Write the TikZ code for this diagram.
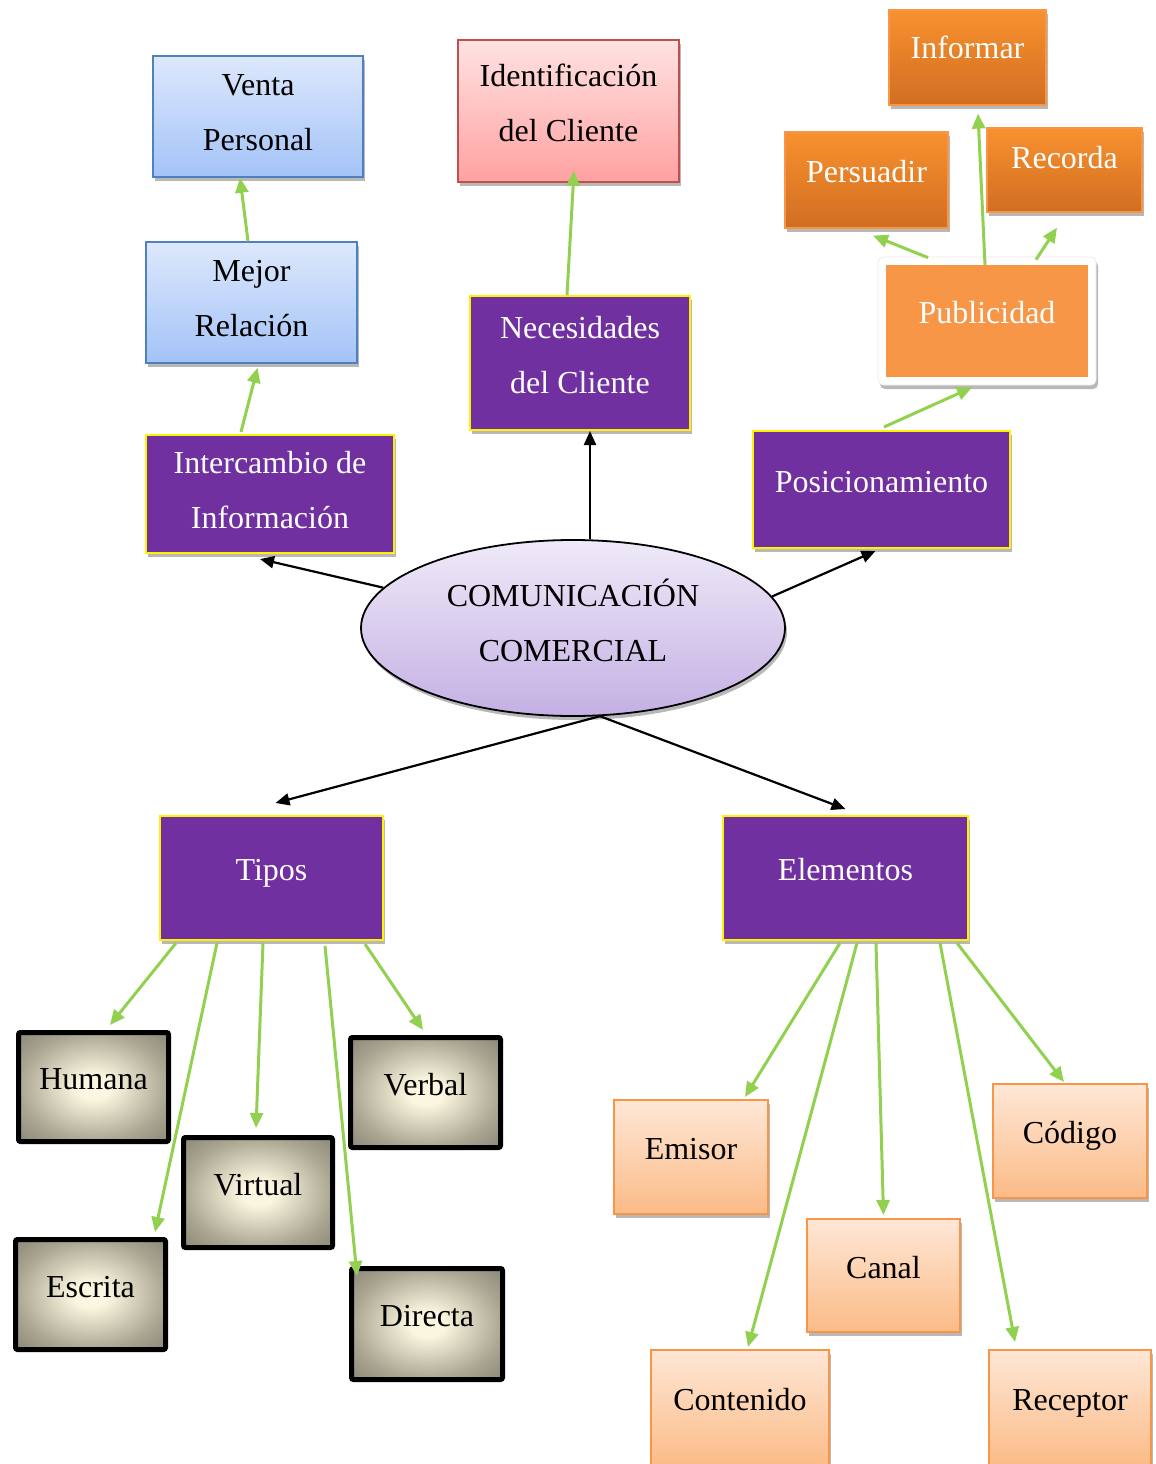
\documentclass[tikz,border=0pt]{standalone}
\usepackage{fontspec}
\setmainfont{Liberation Serif}
\usetikzlibrary{arrows.meta,shadows,shapes.geometric,calc}

\definecolor{purp}{HTML}{7030A0}
\definecolor{gline}{HTML}{92D050}
\definecolor{blueT}{HTML}{DDE8FC}
\definecolor{blueB}{HTML}{A3C3F7}
\definecolor{blueE}{HTML}{4F81BD}
\definecolor{pinkT}{HTML}{FFE2E2}
\definecolor{pinkB}{HTML}{FFA1A1}
\definecolor{pinkE}{HTML}{C0504D}
\definecolor{orT}{HTML}{F8912E}
\definecolor{orB}{HTML}{D16E22}
\definecolor{orE}{HTML}{F79646}
\definecolor{pubfill}{HTML}{F79646}
\definecolor{peT}{HTML}{FEE7D6}
\definecolor{peB}{HTML}{FBBB87}
\definecolor{elT}{HTML}{EFEAF8}
\definecolor{elB}{HTML}{C4B0E4}
\definecolor{cream}{HTML}{FBF6DF}
\definecolor{bmid}{HTML}{ABA692}
\definecolor{bdark}{HTML}{8B8777}

\pgfdeclareradialshading{bevel}{\pgfpointorigin}{color(0bp)=(cream); color(4bp)=(cream); color(17.5bp)=(bmid); color(25bp)=(bdark)}

\tikzset{
  base/.style={font=\fontsize{32}{55}\selectfont, align=center, inner sep=0pt},
  one/.style={text height=22pt, text depth=17pt},
  two/.style={text height=77pt, text depth=17pt},
  twolow/.style={text height=77pt, text depth=9pt},
  sz/.style 2 args={minimum width=#1, minimum height=#2},
  shad/.style={drop shadow={shadow xshift=2pt, shadow yshift=-4pt, opacity=0.28, fill=black}},
  bluebox/.style={base, shad, draw=blueE, line width=1.5pt, top color=blueT, bottom color=blueB},
  pinkbox/.style={base, shad, draw=pinkE, line width=1.5pt, top color=pinkT, bottom color=pinkB},
  purpbox/.style={base, shad, draw=yellow, line width=2pt, fill=purp, text=white},
  orbox/.style={base, shad, draw=orE, line width=1.2pt, top color=orT, bottom color=orB, text=white},
  pubframe/.style={shad, fill=white, draw=black!8, line width=0.8pt, rounded corners=5pt, inner sep=0pt},
  pubbox/.style={base, fill=pubfill, text=white},
  bevelbox/.style={base, draw=black, line width=5pt, rounded corners=2pt,
    path picture={\shade[shading=bevel]
      ($(path picture bounding box.south west)!-0.21!(path picture bounding box.north east)$) rectangle
      ($(path picture bounding box.north east)!-0.21!(path picture bounding box.south west)$);}},
  peachbox/.style={base, shad, draw=orE, line width=2pt, top color=peT, bottom color=peB},
  ellbox/.style={base, shad, ellipse, draw=black, line width=1.8pt, top color=elT, bottom color=elB},
  blk/.style={draw=black, line width=2.2pt, -{Triangle[length=14pt,width=12pt]}},
  grn/.style={draw=gline, line width=3pt, -{Triangle[length=15pt,width=13pt]}},
}

\begin{document}
\begin{tikzpicture}[x=1pt,y=-1pt]
\useasboundingbox (0,0) rectangle (1156,1464);
\clip (0,0) rectangle (1156,1464);

% top-left chain
\node[bluebox, twolow, sz={210pt}{121pt}] (venta) at (258,116.5) {Venta\\Personal};
\node[bluebox, twolow, sz={211pt}{121pt}] (mejor) at (251.5,302.5) {Mejor\\Relación};
\node[purpbox, twolow, sz={248pt}{118pt}] (inter) at (270,494) {Intercambio de\\Información};

% top-middle chain
\node[pinkbox, two, sz={221pt}{142pt}] (ident) at (568.5,111) {Identificación\\del Cliente};
\node[purpbox, two, sz={220pt}{134pt}] (nec) at (580,363) {Necesidades\\del Cliente};

% top-right chain
\node[orbox, one, text depth=20pt, sz={157pt}{95pt}] (inf) at (967.5,57.5) {Informar};
\node[orbox, one, sz={163pt}{96pt}] (pers) at (866.5,180) {Persuadir};
\node[orbox, one, text depth=25pt, sz={155pt}{84pt}] (rec) at (1064.5,170) {Recorda};
\node[pubframe, sz={218pt}{128pt}] (pubf) at (987,321) {};
\node[pubbox, one, sz={202pt}{112pt}] (pub) at (987,321) {Publicidad};
\node[purpbox, one, sz={257pt}{117pt}] (pos) at (881.5,489.5) {Posicionamiento};

% centre
\node[ellbox, text height=77pt, text depth=11pt, sz={424pt}{176pt}] (ell) at (573,628) {COMUNICACIÓN\\COMERCIAL};

% second level
\node[purpbox, one, sz={223pt}{124pt}] (tipos) at (271.5,878) {Tipos};
\node[purpbox, one, sz={245pt}{124pt}] (elem) at (845.5,878) {Elementos};

% tipos leaves
\node[bevelbox, one, sz={150pt}{109pt}] (hum) at (93.5,1087) {Humana};
\node[bevelbox, one, sz={150pt}{110pt}] (ver) at (425.5,1092.5) {Verbal};
\node[bevelbox, one, sz={149pt}{110pt}] (vir) at (258,1192.5) {Virtual};
\node[bevelbox, one, sz={150pt}{110pt}] (esc) at (90.5,1294.5) {Escrita};
\node[bevelbox, one, sz={151pt}{111pt}] (dir) at (427,1324) {Directa};

% elementos leaves
\node[peachbox, one, sz={154pt}{114pt}] (emi) at (691,1157) {Emisor};
\node[peachbox, one, sz={154pt}{114pt}] (cod) at (1070,1141) {Código};
\node[peachbox, one, sz={153pt}{113pt}] (can) at (883.5,1275.5) {Canal};
\node[peachbox, one, sz={178pt}{116pt}] (con) at (740,1408) {Contenido};
\node[peachbox, one, sz={162pt}{116pt}] (rcp) at (1070,1408) {Receptor};

% black connectors from the ellipse
\draw[blk] ([xshift=17pt]ell.north) -- ([xshift=10pt]nec.south);
\draw[blk] (ell.168) -- ([xshift=-10pt,yshift=-5pt]inter.south);
\draw[blk] (ell.9) -- ([xshift=-6pt,yshift=-2pt]pos.south);
\draw[blk] (ell.-73) -- ([xshift=4pt,yshift=12pt]tipos.north);
\draw[blk] (ell.-73) -- ([xshift=0pt,yshift=6pt]elem.north);

% green connectors, upper part
\draw[grn] ([xshift=-29pt,yshift=2pt]inter.north) -- ([xshift=6pt,yshift=-4pt]mejor.south);
\draw[grn] ([xshift=-3.5pt]mejor.north) -- ([xshift=-18pt]venta.south);
\draw[grn] ([xshift=-13pt]nec.north) -- ([xshift=5.5pt,yshift=12pt]ident.south);
\draw[grn] ([xshift=2.5pt,yshift=3pt]pos.north) -- ([xshift=-15pt,yshift=-2pt]pubf.south);
\draw[grn] ([xshift=-59pt,yshift=-1pt]pubf.north) -- ([xshift=6.5pt,yshift=-7pt]pers.south);
\draw[grn] ([xshift=-2pt]pub.north) -- ([xshift=10.5pt,yshift=-8pt]inf.south);
\draw[grn] ([xshift=49pt,yshift=-3pt]pubf.north) -- ([xshift=-7.5pt,yshift=-15pt]rec.south);

% green connectors, Tipos
\draw[grn] ([xshift=-95.5pt,yshift=-2pt]tipos.south) -- ([xshift=16.5pt,yshift=5pt]hum.north);
\draw[grn] ([xshift=-54.5pt,yshift=-2pt]tipos.south) -- ([xshift=64.5pt,yshift=5pt]esc.north);
\draw[grn] ([xshift=-8.5pt,yshift=-2pt]tipos.south) -- ([xshift=-2pt,yshift=7pt]vir.north);
\draw[grn] ([xshift=53.5pt,yshift=-5pt]tipos.south) -- ([xshift=-70pt,yshift=-10pt]dir.north);
\draw[grn] ([xshift=93.5pt,yshift=-3pt]tipos.south) -- ([xshift=-2.5pt,yshift=5pt]ver.north);

% green connectors, Elementos
\draw[grn] ([xshift=-5.5pt,yshift=-2pt]elem.south) -- ([xshift=54pt,yshift=2pt]emi.north);
\draw[grn] ([xshift=11.5pt,yshift=-2pt]elem.south) -- ([xshift=8pt,yshift=2pt]con.north);
\draw[grn] ([xshift=30.5pt,yshift=-2pt]elem.south) -- ([yshift=3pt]can.north);
\draw[grn] ([xshift=94.5pt,yshift=-2pt]elem.south) -- ([xshift=-55pt,yshift=7pt]rcp.north);
\draw[grn] ([xshift=111.5pt,yshift=-2pt]elem.south) -- ([xshift=-6pt,yshift=1pt]cod.north);
\end{tikzpicture}
\end{document}
